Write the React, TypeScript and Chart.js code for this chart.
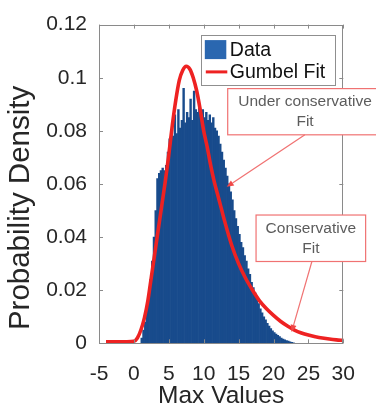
import React, { useEffect, useRef } from 'react';
import { Chart, registerables } from 'chart.js';

Chart.register(...registerables);

// ---- axes ----
const xTickValues = [-5, 0, 5, 10, 15, 20, 25, 30];
const yTickValues = [0, 0.02, 0.04, 0.06, 0.08, 0.1, 0.12];
const yTickLabels = ['0', '0.02', '0.04', '0.06', '0.08', '0.1', '0.12'];
const xTitle = 'Max Values';
const yTitle = 'Probability Density';

// ---- histogram (bin width 0.25, first bin starts at 1.0) ----
const binStart = 1.0;
const binWidth = 0.25;
const histDensity = [
  0.002, 0.005, 0.008, 0.013, 0.018, 0.024, 0.031, 0.04,
  0.05, 0.062, 0.064, 0.065, 0.066, 0.065, 0.067, 0.072,
  0.077, 0.079, 0.078, 0.086, 0.079, 0.088, 0.081, 0.084,
  0.096, 0.083, 0.087, 0.085, 0.092, 0.084, 0.095, 0.088,
  0.087, 0.089, 0.086, 0.088, 0.085, 0.087, 0.084, 0.086,
  0.083, 0.085, 0.081, 0.08, 0.078, 0.075, 0.072, 0.069,
  0.066, 0.063, 0.06, 0.057, 0.054, 0.05, 0.047, 0.044,
  0.041, 0.038, 0.036, 0.033, 0.031, 0.028, 0.026, 0.023,
  0.021, 0.019, 0.017, 0.015, 0.013, 0.0115, 0.01, 0.0088,
  0.0075, 0.0065, 0.0055, 0.0047, 0.004, 0.0035, 0.003, 0.0025,
  0.002, 0.0016, 0.0013, 0.001, 0.0008, 0.0006, 0.0004, 0.0002,
];

// ---- Gumbel fit curve ----
const fitX = [-4, -3, -2, -1, 0, 0.5, 1, 1.5, 2, 2.5, 3, 3.5, 4, 4.5, 5, 5.5, 6, 6.5, 7, 7.5, 8, 8.5, 9, 9.5, 10, 10.5, 11, 11.5, 12, 12.5, 13, 14, 15, 16, 17, 18, 19, 20, 21, 22, 23, 24, 25, 26, 27, 28, 29, 30];
const fitY = [0.0006, 0.0006, 0.0006, 0.0006, 0.0008, 0.002, 0.005, 0.0095, 0.016, 0.025, 0.034, 0.043, 0.052, 0.061, 0.071, 0.082, 0.0915, 0.099, 0.1028, 0.1043, 0.1033, 0.1, 0.095, 0.088, 0.08, 0.074, 0.067, 0.061, 0.056, 0.051, 0.046, 0.037, 0.03, 0.0245, 0.02, 0.016, 0.013, 0.0105, 0.0083, 0.0065, 0.005, 0.0039, 0.0031, 0.0025, 0.002, 0.0016, 0.0013, 0.0011];

// ---- legend ----
const legendLabels = ['Data', 'Gumbel Fit'];

// ---- annotations (data coordinates) ----
const noteTexts = [['Under conservative', 'Fit'], ['Conservative', 'Fit']];
const noteBoxX = [[13.44, 35.6], [17.5, 33.2]];
const noteBoxY = [[0.0785, 0.0959], [0.0308, 0.0483]];
const arrowFrom = [[24.5, 0.0785], [25.5, 0.0308]];
const arrowTo = [[13.3, 0.0589], [22.6, 0.0043]];

const BAR_COLOR = '#184b8c';
const LEGEND_PATCH = '#2a67b0';
const RED = '#ee2222';
const NOTE_RED = '#f07272';
const TEXT = '#262626';
const FONT = "'Liberation Sans', Arial, Helvetica, sans-serif";

const overlayPlugin = {
  id: 'overlay',
  afterDatasetsDraw(chart: any) {
    const { ctx, chartArea: a, scales } = chart;
    const xs = scales.x;
    const ys = scales.y;
    ctx.save();
    ctx.strokeStyle = '#8a8a8a';
    ctx.lineWidth = 1;
    ctx.strokeRect(Math.round(a.left) + 0.5, Math.round(a.top) + 0.5, Math.round(a.right - a.left) - 1, Math.round(a.bottom - a.top) - 1);
    const tl = 4;
    ctx.beginPath();
    xTickValues.forEach((v) => {
      const px = Math.round(xs.getPixelForValue(v)) + 0.5;
      ctx.moveTo(px, a.bottom);
      ctx.lineTo(px, a.bottom - tl);
      ctx.moveTo(px, a.top);
      ctx.lineTo(px, a.top + tl);
    });
    yTickValues.forEach((v) => {
      const py = Math.round(ys.getPixelForValue(v)) + 0.5;
      ctx.moveTo(a.left, py);
      ctx.lineTo(a.left + tl, py);
      ctx.moveTo(a.right, py);
      ctx.lineTo(a.right - tl, py);
    });
    ctx.stroke();
    ctx.restore();
  },
  afterDraw(chart: any) {
    const { ctx, chartArea: a, scales } = chart;
    const xs = scales.x;
    const ys = scales.y;
    ctx.save();

    // y axis title
    ctx.save();
    ctx.translate(21, (a.top + a.bottom) / 2 + 24);
    ctx.rotate(-Math.PI / 2);
    ctx.fillStyle = TEXT;
    ctx.font = `29.5px ${FONT}`;
    ctx.textAlign = 'center';
    ctx.textBaseline = 'middle';
    ctx.fillText(yTitle, 0, 0);
    ctx.restore();

    // legend box
    const lw = 134, lh = 50;
    const lx = a.right - 8 - lw;
    const ly = a.top + 10.5;
    ctx.fillStyle = '#ffffff';
    ctx.fillRect(lx, ly, lw, lh);
    ctx.strokeStyle = '#8f8f8f';
    ctx.lineWidth = 1;
    ctx.strokeRect(Math.round(lx) + 0.5, Math.round(ly) + 0.5, lw, lh);
    ctx.fillStyle = LEGEND_PATCH;
    ctx.fillRect(lx + 3.5, ly + 5, 21.5, 19);
    ctx.strokeStyle = RED;
    ctx.lineWidth = 3;
    ctx.beginPath();
    ctx.moveTo(lx + 4.5, ly + 36.8);
    ctx.lineTo(lx + 26, ly + 36.8);
    ctx.stroke();
    ctx.fillStyle = '#111111';
    ctx.font = `19.5px ${FONT}`;
    ctx.textAlign = 'left';
    ctx.textBaseline = 'middle';
    ctx.fillText(legendLabels[0], lx + 28.5, ly + 15.5);
    ctx.fillText(legendLabels[1], lx + 28.5, ly + 37.5);

    // annotations
    for (let i = 0; i < noteTexts.length; i++) {
      const x0 = xs.getPixelForValue(noteBoxX[i][0]);
      const x1 = xs.getPixelForValue(noteBoxX[i][1]);
      const yTop = ys.getPixelForValue(noteBoxY[i][1]);
      const yBot = ys.getPixelForValue(noteBoxY[i][0]);
      ctx.fillStyle = '#ffffff';
      ctx.fillRect(x0, yTop, x1 - x0, yBot - yTop);
      ctx.strokeStyle = NOTE_RED;
      ctx.lineWidth = 1.2;
      ctx.strokeRect(x0, yTop, x1 - x0, yBot - yTop);
      ctx.fillStyle = '#5c5c5c';
      ctx.font = `15.5px ${FONT}`;
      ctx.textAlign = 'center';
      ctx.textBaseline = 'middle';
      const cx = (x0 + x1) / 2;
      const cy = (yTop + yBot) / 2;
      const lines = noteTexts[i];
      lines.forEach((t, k) => {
        ctx.fillText(t, cx, cy + (k - (lines.length - 1) / 2) * 20);
      });
      const fx = xs.getPixelForValue(arrowFrom[i][0]);
      const fy = ys.getPixelForValue(arrowFrom[i][1]);
      const tx = xs.getPixelForValue(arrowTo[i][0]);
      const ty = ys.getPixelForValue(arrowTo[i][1]);
      const ang = Math.atan2(ty - fy, tx - fx);
      const hl = 7, hw = 3;
      const bx = tx - hl * Math.cos(ang);
      const by = ty - hl * Math.sin(ang);
      ctx.strokeStyle = NOTE_RED;
      ctx.lineWidth = 1.2;
      ctx.beginPath();
      ctx.moveTo(fx, fy);
      ctx.lineTo(bx, by);
      ctx.stroke();
      ctx.fillStyle = '#f04848';
      ctx.beginPath();
      ctx.moveTo(tx, ty);
      ctx.lineTo(bx + hw * Math.sin(ang), by - hw * Math.cos(ang));
      ctx.lineTo(bx - hw * Math.sin(ang), by + hw * Math.cos(ang));
      ctx.closePath();
      ctx.fill();
    }
    ctx.restore();
  },
};

export default function App() {
  const canvasRef = useRef<HTMLCanvasElement | null>(null);

  useEffect(() => {
    document.body.style.margin = '0';
    const canvas = canvasRef.current;
    if (!canvas) return;

    const histPoints = histDensity.map((d, i) => ({ x: binStart + binWidth * (i + 0.5), y: d }));
    const fitPoints = fitX.map((x, i) => ({ x, y: fitY[i] }));

    const chart = new Chart(canvas, {
      type: 'bar',
      data: {
        datasets: [
          {
            type: 'line',
            label: legendLabels[1],
            data: fitPoints,
            borderColor: RED,
            borderWidth: 3.6,
            pointRadius: 0,
            cubicInterpolationMode: 'monotone',
            fill: false,
            clip: false,
            order: 0,
          } as any,
          {
            type: 'bar',
            label: legendLabels[0],
            data: histPoints,
            backgroundColor: BAR_COLOR,
            borderWidth: 0,
            barPercentage: 1,
            categoryPercentage: 1,
            order: 1,
          } as any,
        ],
      },
      options: {
        animation: false,
        responsive: true,
        maintainAspectRatio: false,
        layout: { padding: { left: 0, right: 32.7, top: 16, bottom: 0 } },
        plugins: {
          legend: { display: false },
          tooltip: { enabled: false },
        },
        scales: {
          x: {
            type: 'linear',
            min: -5,
            max: 30,
            offset: false,
            grid: { display: false, offset: false, drawTicks: false },
            border: { display: false },
            ticks: {
              stepSize: 5,
              autoSkip: false,
              maxRotation: 0,
              padding: 18,
              color: TEXT,
              font: { family: FONT, size: 21 },
              callback: (v: any) => String(v),
            },
            title: {
              display: true,
              text: xTitle,
              color: TEXT,
              font: { family: FONT, size: 24.5, lineHeight: 1 },
              padding: { top: 0, bottom: -1 },
            },
            afterFit: (s: any) => {
              s.height = 63.7;
            },
          },
          y: {
            type: 'linear',
            min: 0,
            max: 0.12,
            grid: { display: false, drawTicks: false },
            border: { display: false },
            ticks: {
              stepSize: 0.02,
              autoSkip: false,
              padding: 12,
              color: TEXT,
              font: { family: FONT, size: 21 },
              callback: (_v: any, i: number) => yTickLabels[i],
            },
            title: { display: false },
            afterFit: (s: any) => {
              s.width = 99;
            },
          },
        },
      },
      plugins: [overlayPlugin],
    });

    return () => chart.destroy();
  }, []);

  return (
    <div style={{ position: 'fixed', left: 0, top: 0, width: 376, height: 407, background: '#fff' }}>
      <canvas ref={canvasRef} />
    </div>
  );
}
